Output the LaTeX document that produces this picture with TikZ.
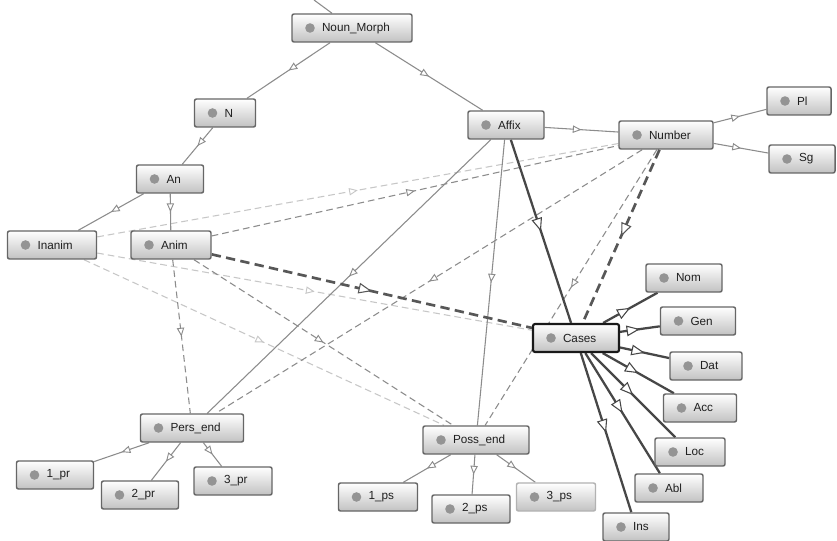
\documentclass[tikz,border=0pt]{standalone}
\usepackage{fontspec}
\setmainfont{Liberation Sans}
\usetikzlibrary{arrows.meta,decorations.markings,backgrounds}
\begin{document}
\begin{tikzpicture}[x=0.75pt,y=-0.75pt,
  box/.style={draw=black!60, line width=1.1pt, rounded corners=1.5pt,
    top color=white, bottom color=black!24, text=black!88,
    minimum height=21pt, inner xsep=1.5pt, inner ysep=0pt,
    text width=#1, align=left,
    font=\fontsize{8.8}{10}\selectfont,
    execute at begin node={\hspace*{21pt}},
    path picture={\fill[black!42] ([xshift=13.5pt]path picture bounding box.west) circle (3.6pt);}},
  sol/.style={draw=black!45, line width=0.8pt},
  solk/.style={draw=black!72, line width=1.7pt},
  dsh/.style={draw=black!45, line width=0.8pt, dash pattern=on 5pt off 3pt},
  ldsh/.style={draw=black!22, line width=0.8pt, dash pattern=on 5pt off 3pt},
  kdsh/.style={draw=black!66, line width=2pt, dash pattern=on 7pt off 4pt},
  ma/.style={postaction={decorate,decoration={markings,mark=at position 0.5 with {\arrow{Triangle[fill=white,length=6.5pt,width=5.5pt,line width=0.7pt]}}}}},
  mb/.style={postaction={decorate,decoration={markings,mark=at position 0.5 with {\arrow{Triangle[fill=white,length=10pt,width=8pt,line width=0.8pt]}}}}}
]
\useasboundingbox (0,0) rectangle (837,541);
% nodes
\node[box=87pt]    (nm)     at (352,28)  {Noun\_Morph};
\node[box=42.75pt] (n)      at (225,113) {N};
\node[box=47.25pt] (an)     at (170,179) {An};
\node[box=63.75pt] (inanim) at (52,245)  {Inanim};
\node[box=57pt]    (anim)   at (171,245) {Anim};
\node[box=54pt]    (affix)  at (506,125) {Affix};
\node[box=67.5pt]  (number) at (666,135) {Number};
\node[box=45pt]    (pl)     at (799,101) {Pl};
\node[box=46.5pt]  (sg)     at (802,159) {Sg};
\node[box=61.5pt, draw=black!90, line width=1.6pt] (cases) at (576,338) {Cases};
\node[box=54pt]    (nom)    at (684,278) {Nom};
\node[box=53.25pt] (gen)    at (698,321) {Gen};
\node[box=51pt]    (dat)    at (706,366) {Dat};
\node[box=51.75pt] (acc)    at (700,408) {Acc};
\node[box=49.5pt]  (loc)    at (690,452) {Loc};
\node[box=48pt]    (abl)    at (669,488) {Abl};
\node[box=46.5pt]  (ins)    at (636,527) {Ins};
\node[box=76.5pt]  (poss)   at (476,440) {Poss\_end};
\node[box=56.25pt] (ps1)    at (378,497) {1\_ps};
\node[box=55.5pt]  (ps2)    at (471,509) {2\_ps};
\node[box=56.25pt, draw=black!30] (ps3) at (556,497) {3\_ps};
\node[box=74.25pt] (pers)   at (192,428) {Pers\_end};
\node[box=54.75pt] (pr1)    at (55,475)  {1\_pr};
\node[box=54.75pt] (pr2)    at (140,495) {2\_pr};
\node[box=55.5pt]  (pr3)    at (233,481) {3\_pr};
\coordinate (topc) at (314,0);
% connectors
\begin{scope}[on background layer]
\fill[white] (0,0) rectangle (837,541);
\draw[ldsh,ma] (inanim) -- (number);
\draw[ldsh,ma] (inanim) -- (cases);
\draw[ldsh,ma] (inanim) -- (poss);
\draw[dsh,ma] (anim) -- (number);
\draw[dsh,ma] (number) -- (poss);
\draw[dsh,ma] (number) -- (pers);
\draw[dsh,ma] (anim) -- (pers);
\draw[dsh,ma] (anim) -- (poss);
\draw[sol] (nm) -- (topc);
\draw[sol,ma] (nm) -- (n);
\draw[sol,ma] (nm) -- (affix);
\draw[sol,ma] (n) -- (an);
\draw[sol,ma] (an) -- (inanim);
\draw[sol,ma] (an) -- (anim);
\draw[sol,ma] (affix) -- (number);
\draw[sol,ma] (number) -- (pl);
\draw[sol,ma] (number) -- (sg);
\draw[sol,ma] (affix) -- (poss);
\draw[sol,ma] (affix) -- (pers);
\draw[sol,ma] (pers) -- (pr1);
\draw[sol,ma] (pers) -- (pr2);
\draw[sol,ma] (pers) -- (pr3);
\draw[sol,ma] (poss) -- (ps1);
\draw[sol,ma] (poss) -- (ps2);
\draw[sol,ma] (poss) -- (ps3);
\draw[kdsh,mb] (number) -- (cases);
\draw[kdsh,mb] (anim) -- (cases);
\draw[solk,mb] (affix) -- (cases);
\draw[solk,mb] (cases) -- (nom);
\draw[solk,mb] (cases) -- (gen);
\draw[solk,mb] (cases) -- (dat);
\draw[solk,mb] (cases) -- (acc);
\draw[solk,mb] (cases) -- (loc);
\draw[solk,mb] (cases) -- (abl);
\draw[solk,mb] (cases) -- (ins);
\end{scope}
\end{tikzpicture}
\end{document}
